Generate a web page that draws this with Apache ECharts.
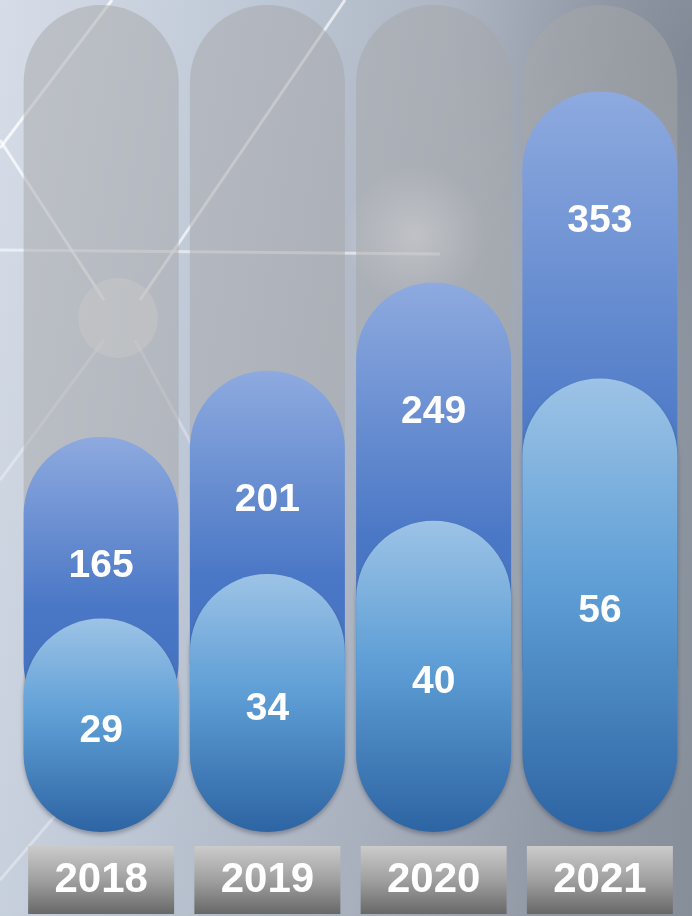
<!DOCTYPE html>
<html>
<head>
<meta charset="utf-8">
<script src="https://cdn.jsdelivr.net/npm/echarts@6/dist/echarts.min.js"></script>
<style>
  html, body {
    margin: 0;
    padding: 0;
  }
  #main {
    width: 692px;
    height: 916px;
    background:
      radial-gradient(circle at 415px 235px, rgba(255, 255, 255, 0.55) 0, rgba(255, 255, 255, 0) 70px),
      radial-gradient(ellipse at 690px 60px, rgba(100, 108, 122, 0.35) 0, rgba(100, 108, 122, 0) 240px),
      linear-gradient(100deg, #d6dde8 0%, #bfc8d6 30%, #a8b0bd 60%, #8e96a2 85%, #868e9a 100%);
  }
</style>
</head>
<body>
<div id="main"></div>
<script>
  const years = ["2018", "2019", "2020", "2021"];
  const totalValues = [165, 201, 249, 353];
  const partValues = [29, 34, 40, 56];

  const myChart = echarts.init(document.getElementById("main"));

  // faint light streaks from the photo background
  const streak = (x1, y1, x2, y2, op) => ({
    type: "line",
    z: -1,
    silent: true,
    shape: { x1, y1, x2, y2 },
    style: { stroke: "rgba(255,255,255," + op + ")", lineWidth: 3 },
  });

  myChart.setOption({
    textStyle: { fontFamily: "Liberation Sans, Arial, sans-serif" },
    graphic: [
      streak(112, 0, 0, 148, 0.75),
      streak(0, 140, 104, 300, 0.7),
      streak(140, 300, 345, 0, 0.65),
      streak(0, 250, 440, 254, 0.55),
      streak(104, 340, 0, 480, 0.35),
      streak(135, 340, 200, 460, 0.3),
      streak(0, 880, 60, 810, 0.35),
      {
        type: "circle",
        z: -1,
        silent: true,
        shape: { cx: 118, cy: 318, r: 40 },
        style: { fill: "rgba(235,238,232,0.45)" },
      },
    ],
    grid: {
      left: 18,
      right: 9,
      top: 5,
      bottom: 84,
    },
    xAxis: {
      type: "category",
      data: years,
      axisLine: { show: false },
      axisTick: { show: false },
      axisLabel: {
        margin: 14,
        width: 146,
        height: 68,
        lineHeight: 68,
        align: "center",
        fontSize: 42,
        fontWeight: "bold",
        color: "#fff",
        backgroundColor: new echarts.graphic.LinearGradient(0, 0, 0, 1, [
          { offset: 0, color: "#cbcbcb" },
          { offset: 0.5, color: "#a0a0a0" },
          { offset: 1, color: "#686868" },
        ]),
      },
    },
    yAxis: [
      { type: "value", show: false, min: -50, max: 400, splitLine: { show: false } },
      { type: "value", show: false, min: 5, max: 98, splitLine: { show: false } },
    ],
    series: [
      {
        name: "total",
        type: "bar",
        yAxisIndex: 0,
        data: totalValues,
        barWidth: 155,
        barGap: "-100%",
        showBackground: true,
        backgroundStyle: {
          color: "rgba(165,165,168,0.5)",
          borderRadius: 78,
        },
        itemStyle: {
          borderRadius: 78,
          color: new echarts.graphic.LinearGradient(0, 0, 0, 1, [
            { offset: 0, color: "#8eaadf" },
            { offset: 0.55, color: "#4b78c6" },
            { offset: 1, color: "#3f6cbc" },
          ]),
        },
        label: {
          show: true,
          position: "insideTop",
          distance: 110,
          fontSize: 39,
          fontWeight: "bold",
          color: "#fff",
        },
      },
      {
        name: "part",
        type: "bar",
        yAxisIndex: 1,
        data: partValues,
        barWidth: 155,
        barGap: "-100%",
        itemStyle: {
          borderRadius: 78,
          shadowColor: "rgba(40,40,60,0.35)",
          shadowBlur: 4,
          shadowOffsetY: 3,
          color: new echarts.graphic.LinearGradient(0, 0, 0, 1, [
            { offset: 0, color: "#9dc3e6" },
            { offset: 0.45, color: "#5f9fd6" },
            { offset: 1, color: "#2d64a3" },
          ]),
        },
        label: {
          show: true,
          position: "inside",
          offset: [0, 6],
          fontSize: 39,
          fontWeight: "bold",
          color: "#fff",
        },
      },
    ],
  });
</script>
</body>
</html>
